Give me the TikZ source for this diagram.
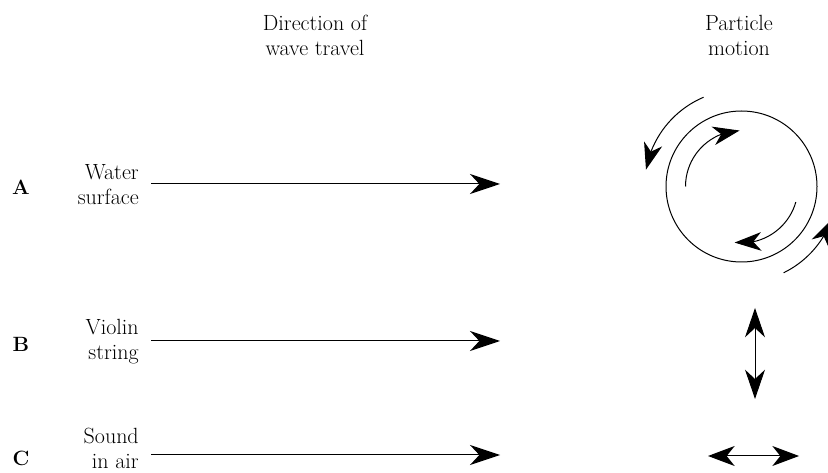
\documentclass[tikz,border=0pt]{standalone}
\usetikzlibrary{arrows.meta,bending,calc}
\begin{document}
\begin{tikzpicture}[x=0.75pt,y=-0.75pt,
  txt/.style={font=\fontsize{16.5}{18.75}\selectfont, inner sep=0pt},
  lbl/.style={txt, align=right, anchor=east},
  hdr/.style={txt, align=center},
  letter/.style={font=\fontsize{15.5}{18.75}\selectfont\bfseries, inner sep=0pt, anchor=base},
  wave/.style={line width=0.75pt, -{Stealth[length=22.5pt,width=15pt,inset=7pt]}},
  dbl/.style={line width=0.75pt, {Stealth[length=22pt,width=15pt,inset=7pt]}-{Stealth[length=22pt,width=15pt,inset=7pt]}},
  dblh/.style={line width=0.75pt, {Stealth[length=20pt,width=15pt,inset=6pt]}-{Stealth[length=20pt,width=15pt,inset=6pt]}},
  curv/.style={line width=0.75pt, -{Stealth[length=20pt,width=14pt,inset=6pt]}}
]
\useasboundingbox (0,0) rectangle (828,473);

% headers
\node[hdr] (h1) at (315,35) {Direction of\\wave travel};
\node[hdr] (h2) at (739,35) {Particle\\motion};

% row labels
\node[letter] (la) at (21,195) {A};
\node[letter] (lb) at (21,352) {B};
\node[letter] (lc) at (21,466) {C};

\node[lbl] (ta) at (139,185) {Water\\surface};
\node[lbl] (tb) at (139,342) {Violin\\string};
\node[lbl] (tc) at (139,448) {Sound\\in air};

% wave direction arrows
\coordinate (a0) at (151,184); \coordinate (a1) at (500,184);
\coordinate (b0) at (151,341); \coordinate (b1) at (500,341);
\coordinate (c0) at (151,455); \coordinate (c1) at (500,455);
\draw[wave] (a0) -- (a1);
\draw[wave] (b0) -- (b1);
\draw[wave] (c0) -- (c1);

% particle motion A: circle
\coordinate (cc) at (741.5,186.5);
\draw[line width=0.75pt] (cc) circle[radius=75.5];
\draw[curv] ($(cc)+(180:56)$) arc[start angle=180, end angle=268, radius=56];
\draw[curv] ($(cc)+(16:56.5)$) arc[start angle=16, end angle=97, radius=56.5];
\draw[curv] ($(cc)+(247:97)$) arc[start angle=247, end angle=190, radius=97];
\draw[curv] ($(cc)+(64:96)$) arc[start angle=64, end angle=20, radius=96];

% particle motion B and C
\coordinate (v0) at (755,308); \coordinate (v1) at (755,399);
\draw[dbl] (v0) -- (v1);
\coordinate (w0) at (708,456); \coordinate (w1) at (799,456);
\draw[dblh] (w0) -- (w1);
\end{tikzpicture}
\end{document}
